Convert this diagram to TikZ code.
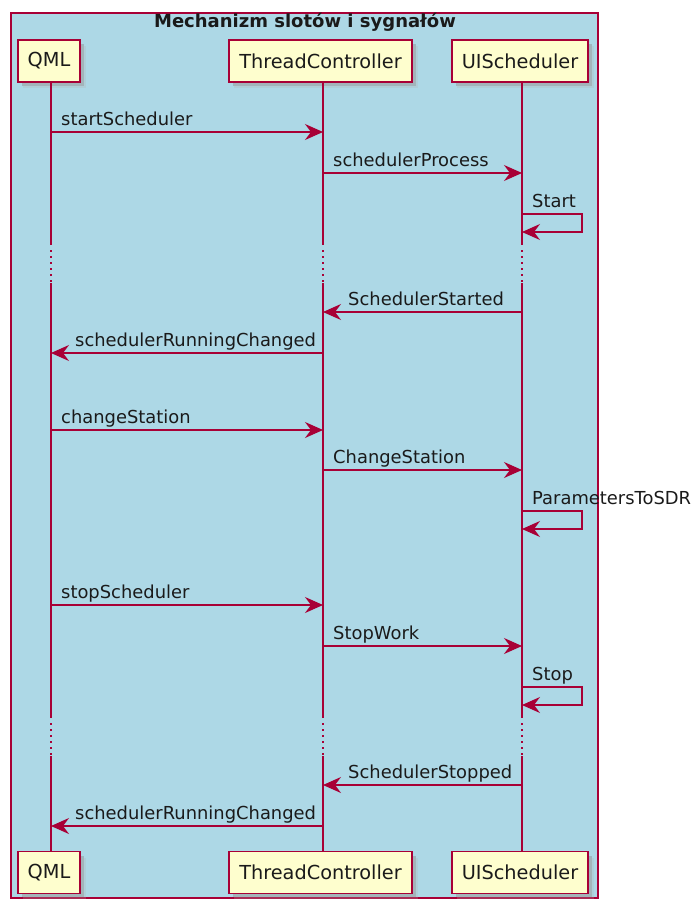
\documentclass[tikz,border=0pt]{standalone}
\usepackage{fontspec}
\setmainfont{DejaVu Sans}
\usetikzlibrary{arrows.meta}
\definecolor{umlred}{HTML}{A80036}
\definecolor{umlbox}{HTML}{FEFECE}
\definecolor{umlframe}{HTML}{ADD8E6}
\definecolor{umltext}{HTML}{1A1A1A}
\tikzset{
  actorbox/.style={draw=umlred, line width=1.5pt, fill=umlbox, minimum height=42pt,
    inner xsep=9pt, text=umltext, font=\fontsize{19.3}{22}\selectfont},
  actorshadow/.style={fill=black!45, opacity=0.45},
  life/.style={draw=umlred, line width=1.2pt},
  lifedots/.style={draw=umlred, line width=1.2pt, dash pattern=on 2pt off 4pt},
  msg/.style={draw=umlred, line width=1.2pt, -{Stealth[length=18pt, width=16pt, inset=6pt]}},
  lbl/.style={anchor=base west, inner sep=0pt, text=umltext, font=\fontsize{17.9}{20}\selectfont},
}
\begin{document}
\begin{tikzpicture}[x=1pt, y=-1pt]
\useasboundingbox (0,0) rectangle (699,899);
% enclosing box
\draw[umlred, line width=1.3pt, fill=umlframe] (11,13) rectangle (598,898);
\node[font=\bfseries\fontsize{18}{20}\selectfont, text=umltext, inner sep=0pt] (title) at (305,22.5) {Mechanizm slotów i sygnałów};

% lifeline positions
\def\xq{51}\def\xt{323}\def\xu{522}

% participant shadows
\foreach \a/\b/\c/\d in {18/40/80/82, 229/40/412/82, 452/40/588/82,
                         18/852/80/893, 229/852/412/893, 452/852/588/893}{
  \fill[actorshadow] (\a+4,\b+4) rectangle (\c+4,\d+4);
  \fill[black!30, opacity=0.25] (\a+5,\b+6) rectangle (\c+6,\d+6);
}

% lifelines
\foreach \x/\n in {\xq/q, \xt/t, \xu/u}{
  \coordinate (\n top) at (\x,82);
  \coordinate (\n b1) at (\x,245);
  \coordinate (\n b2) at (\x,283);
  \coordinate (\n b3) at (\x,718);
  \coordinate (\n b4) at (\x,756);
  \coordinate (\n bot) at (\x,852);
  \draw[life] (\n top) -- (\n b1);
  \draw[lifedots] (\n b1) ++(0,5) -- (\n b2);
  \draw[life] (\n b2) -- (\n b3);
  \draw[lifedots] (\n b3) ++(0,5) -- (\n b4);
  \draw[life] (\n b4) -- (\n bot);
}

% participants
\node[actorbox, minimum width=62pt]  (qml)  at (49,61)    {QML};
\node[actorbox, minimum width=183pt] (tc)   at (320.5,61) {ThreadController};
\node[actorbox, minimum width=136pt] (ui)   at (520,61)   {UIScheduler};
\node[actorbox, minimum width=62pt]  (qmlB) at (49,872.5)    {QML};
\node[actorbox, minimum width=183pt] (tcB)  at (320.5,872.5) {ThreadController};
\node[actorbox, minimum width=136pt] (uiB)  at (520,872.5)   {UIScheduler};

% message anchors on the lifelines
\coordinate (m1q) at (\xq,132);  \coordinate (m1t) at (\xt,132);
\coordinate (m2t) at (\xt,173);  \coordinate (m2u) at (\xu,173);
\coordinate (m3a) at (\xu,214);  \coordinate (m3b) at (582,214);
\coordinate (m3c) at (582,232);  \coordinate (m3d) at (\xu,232);
\coordinate (m4u) at (\xu,312);  \coordinate (m4t) at (\xt,312);
\coordinate (m5t) at (\xt,353);  \coordinate (m5q) at (\xq,353);
\coordinate (m6q) at (\xq,430);  \coordinate (m6t) at (\xt,430);
\coordinate (m7t) at (\xt,470);  \coordinate (m7u) at (\xu,470);
\coordinate (m8a) at (\xu,511);  \coordinate (m8b) at (582,511);
\coordinate (m8c) at (582,529);  \coordinate (m8d) at (\xu,529);
\coordinate (m9q) at (\xq,605);  \coordinate (m9t) at (\xt,605);
\coordinate (m10t) at (\xt,646); \coordinate (m10u) at (\xu,646);
\coordinate (m11a) at (\xu,687); \coordinate (m11b) at (582,687);
\coordinate (m11c) at (582,705); \coordinate (m11d) at (\xu,705);
\coordinate (m12u) at (\xu,785); \coordinate (m12t) at (\xt,785);
\coordinate (m13t) at (\xt,826); \coordinate (m13q) at (\xq,826);

% messages
\draw[msg] (m1q) -- (m1t);
\node[lbl] (l1) at (61,125) {startScheduler};
\draw[msg] (m2t) -- (m2u);
\node[lbl] (l2) at (333,166) {schedulerProcess};
\draw[msg] (m3a) -- (m3b) -- (m3c) -- (m3d);
\node[lbl] (l3) at (532,207) {Start};
\draw[msg] (m4u) -- (m4t);
\node[lbl] (l4) at (348,305) {SchedulerStarted};
\draw[msg] (m5t) -- (m5q);
\node[lbl] (l5) at (75,346) {schedulerRunningChanged};

\draw[msg] (m6q) -- (m6t);
\node[lbl] (l6) at (61,423) {changeStation};
\draw[msg] (m7t) -- (m7u);
\node[lbl] (l7) at (333,463) {ChangeStation};
\draw[msg] (m8a) -- (m8b) -- (m8c) -- (m8d);
\node[lbl] (l8) at (532,504) {ParametersToSDR};

\draw[msg] (m9q) -- (m9t);
\node[lbl] (l9) at (61,598) {stopScheduler};
\draw[msg] (m10t) -- (m10u);
\node[lbl] (l10) at (333,639) {StopWork};
\draw[msg] (m11a) -- (m11b) -- (m11c) -- (m11d);
\node[lbl] (l11) at (532,680) {Stop};
\draw[msg] (m12u) -- (m12t);
\node[lbl] (l12) at (348,778) {SchedulerStopped};
\draw[msg] (m13t) -- (m13q);
\node[lbl] (l13) at (75,819) {schedulerRunningChanged};
\end{tikzpicture}
\end{document}
